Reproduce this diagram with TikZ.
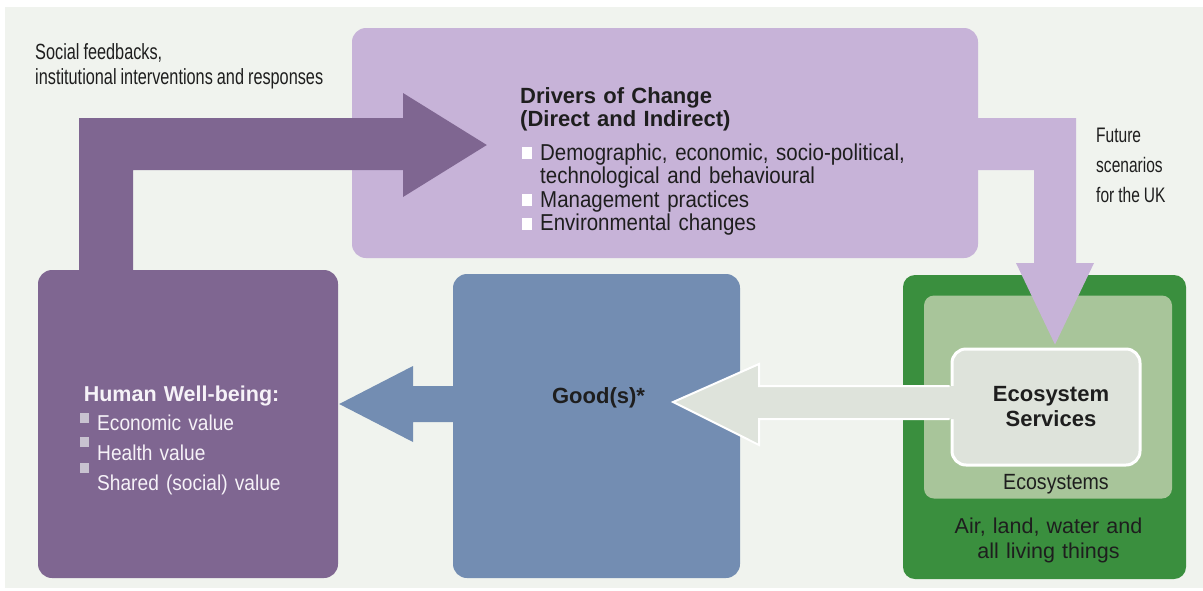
\documentclass[tikz,border=0pt]{standalone}
\usepackage{fontspec}
\setmainfont{Liberation Sans}
\newfontfamily\bodyfont{Liberation Sans}[FakeStretch=0.89]
\newfontfamily\condfont{Liberation Sans}[FakeStretch=0.74]
\usetikzlibrary{calc}

\definecolor{bgcol}{RGB}{240,243,238}
\definecolor{drvcol}{RGB}{199,179,216}
\definecolor{hwbcol}{RGB}{127,102,145}
\definecolor{goodcol}{RGB}{115,141,178}
\definecolor{envcol}{RGB}{58,143,62}
\definecolor{ecocol}{RGB}{168,197,154}
\definecolor{servcol}{RGB}{222,227,219}
\definecolor{bulgrey}{RGB}{200,194,208}
\definecolor{hwbtxt}{RGB}{246,242,248}
\definecolor{txtcol}{RGB}{30,30,30}

\newcommand{\wbul}{\makebox[18pt][l]{\textcolor{white}{\rule[1pt]{10pt}{12pt}}}}
\newcommand{\gbul}[1]{\makebox[17pt][l]{\smash{\textcolor{bulgrey}{\rule[#1pt]{9pt}{10pt}}}}}
\newcommand{\tsp}{\hspace{4pt}}

\begin{document}
\begin{tikzpicture}
  [x=1pt, y=-1pt,
  % block
  block/.style = {rectangle,
    rounded corners=14pt,
    inner sep=0pt},
  % text
  txt/.style = {inner sep=0pt, anchor=base west, align=left, text=txtcol},
  ctxt/.style = {inner sep=0pt, anchor=base, align=center, text=txtcol},
  ]

  \useasboundingbox (0,0) rectangle (1203,590);
  \fill[bgcol] (5,7) rectangle (1203,588);

  % nodes
  \node [block, fill=drvcol, minimum width=626pt, minimum height=230pt] (drivers) at (665,143) {};
  \node [block, fill=hwbcol, minimum width=300pt, minimum height=308pt] (human) at (188,424) {};
  \node [block, fill=goodcol, minimum width=287pt, minimum height=304pt] (goods) at (596.5,426) {};
  \node [block, rounded corners=12pt, fill=envcol, minimum width=283pt, minimum height=304pt] (env) at (1044.5,427) {};
  \node [block, rounded corners=10pt, fill=ecocol, minimum width=248pt, minimum height=203pt] (ecosys) at (1048,397) {};
  \node [block, fill=servcol, draw=white, line width=3pt, minimum width=188pt, minimum height=116pt] (services) at (1046,407) {};

  % feedback arrow
  \coordinate (fbtip) at ($(drivers.west)+(135,2)$);
  \fill[hwbcol] ($(human.north)+(-109,4)$) |- (403,118) -- (403,93) -- (fbtip)
    -- (403,197) -- (403,170) -| ($(human.north)+(-55,4)$) -- cycle;

  % scenario arrow
  \coordinate (sctip) at ($(services.north)+(9,-3)$);
  \fill[drvcol] ($(drivers.east)+(-8,-25)$) -| (1076,263) -- (1094,263) -- (sctip)
    -- (1016,263) -- (1034,263) |- ($(drivers.east)+(-8,27)$) -- cycle;

  % goods arrow
  \coordinate (gdtip) at ($(human.east)+(1,-20)$);
  \fill[goodcol] ($(goods.west)+(5,-40)$) -- (413,386) -- (413,366) -- (gdtip)
    -- (413,442) -- (413,422) -- ($(goods.west)+(5,-4)$) -- cycle;

  % services arrow
  \coordinate (svtip) at ($(goods.east)+(-67,-24)$);
  \fill[servcol] ($(services.west)+(4,-21)$) -- (759,386) -- (759,364) -- (svtip)
    -- (759,445) -- (759,419) -- ($(services.west)+(4,12)$) -- cycle;
  \draw[white, line width=2pt] ($(services.west)+(-1,-21)$) -- (759,386) -- (759,364) -- (svtip)
    -- (759,445) -- (759,419) -- ($(services.west)+(-1,12)$);

  % texts
  \node [txt, text width=330pt, font=\condfont\fontsize{22}{25}\selectfont] (feedback) at (35,59)
    {Social\tsp feedbacks,\\institutional\tsp interventions\tsp and\tsp responses};
  \node [txt, text width=300pt, font=\bfseries\fontsize{22}{23.5}\selectfont] (drvtitle) at (520,103)
    {Drivers of Change\\(Direct and Indirect)};
  \node [txt, text width=420pt, font=\bodyfont\fontsize{23}{23.5}\selectfont] (drvlist) at (522,160)
    {\wbul Demographic, economic, socio-political,\\\hspace*{18pt}technological and behavioural\\\wbul Management practices\\\wbul Environmental changes};
  \node [txt, text width=90pt, font=\condfont\fontsize{21}{30}\selectfont] (future) at (1096,142)
    {Future\\scenarios\\for\tsp the\tsp UK};
  \node [txt, text width=280pt, text=hwbtxt, font=\bodyfont\fontsize{21.5}{29.7}\selectfont] (hwbtext) at (80,401)
    {{\rmfamily\bfseries\,Human Well-being:}\\\gbul{8}Economic value\\\gbul{13}Health value\\\gbul{17}Shared (social) value};
  \node [ctxt, font=\bfseries\fontsize{22}{26}\selectfont] (gdtext) at ($(goods.center)+(2,-23)$) {Good(s)*};
  \node [ctxt, text width=160pt, font=\bfseries\fontsize{22}{25}\selectfont] (svtext) at ($(services.center)+(5,-6)$)
    {Ecosystem\\Services};
  \node [ctxt, font=\bodyfont\fontsize{22}{25}\selectfont] (ecotext) at ($(ecosys.south)+(8,-9.5)$) {Ecosystems};
  \node [ctxt, text width=220pt, font=\fontsize{21.5}{25}\selectfont] (envtext) at ($(env.south)+(4,-46)$)
    {Air, land, water and\\all living things};

\end{tikzpicture}
\end{document}
